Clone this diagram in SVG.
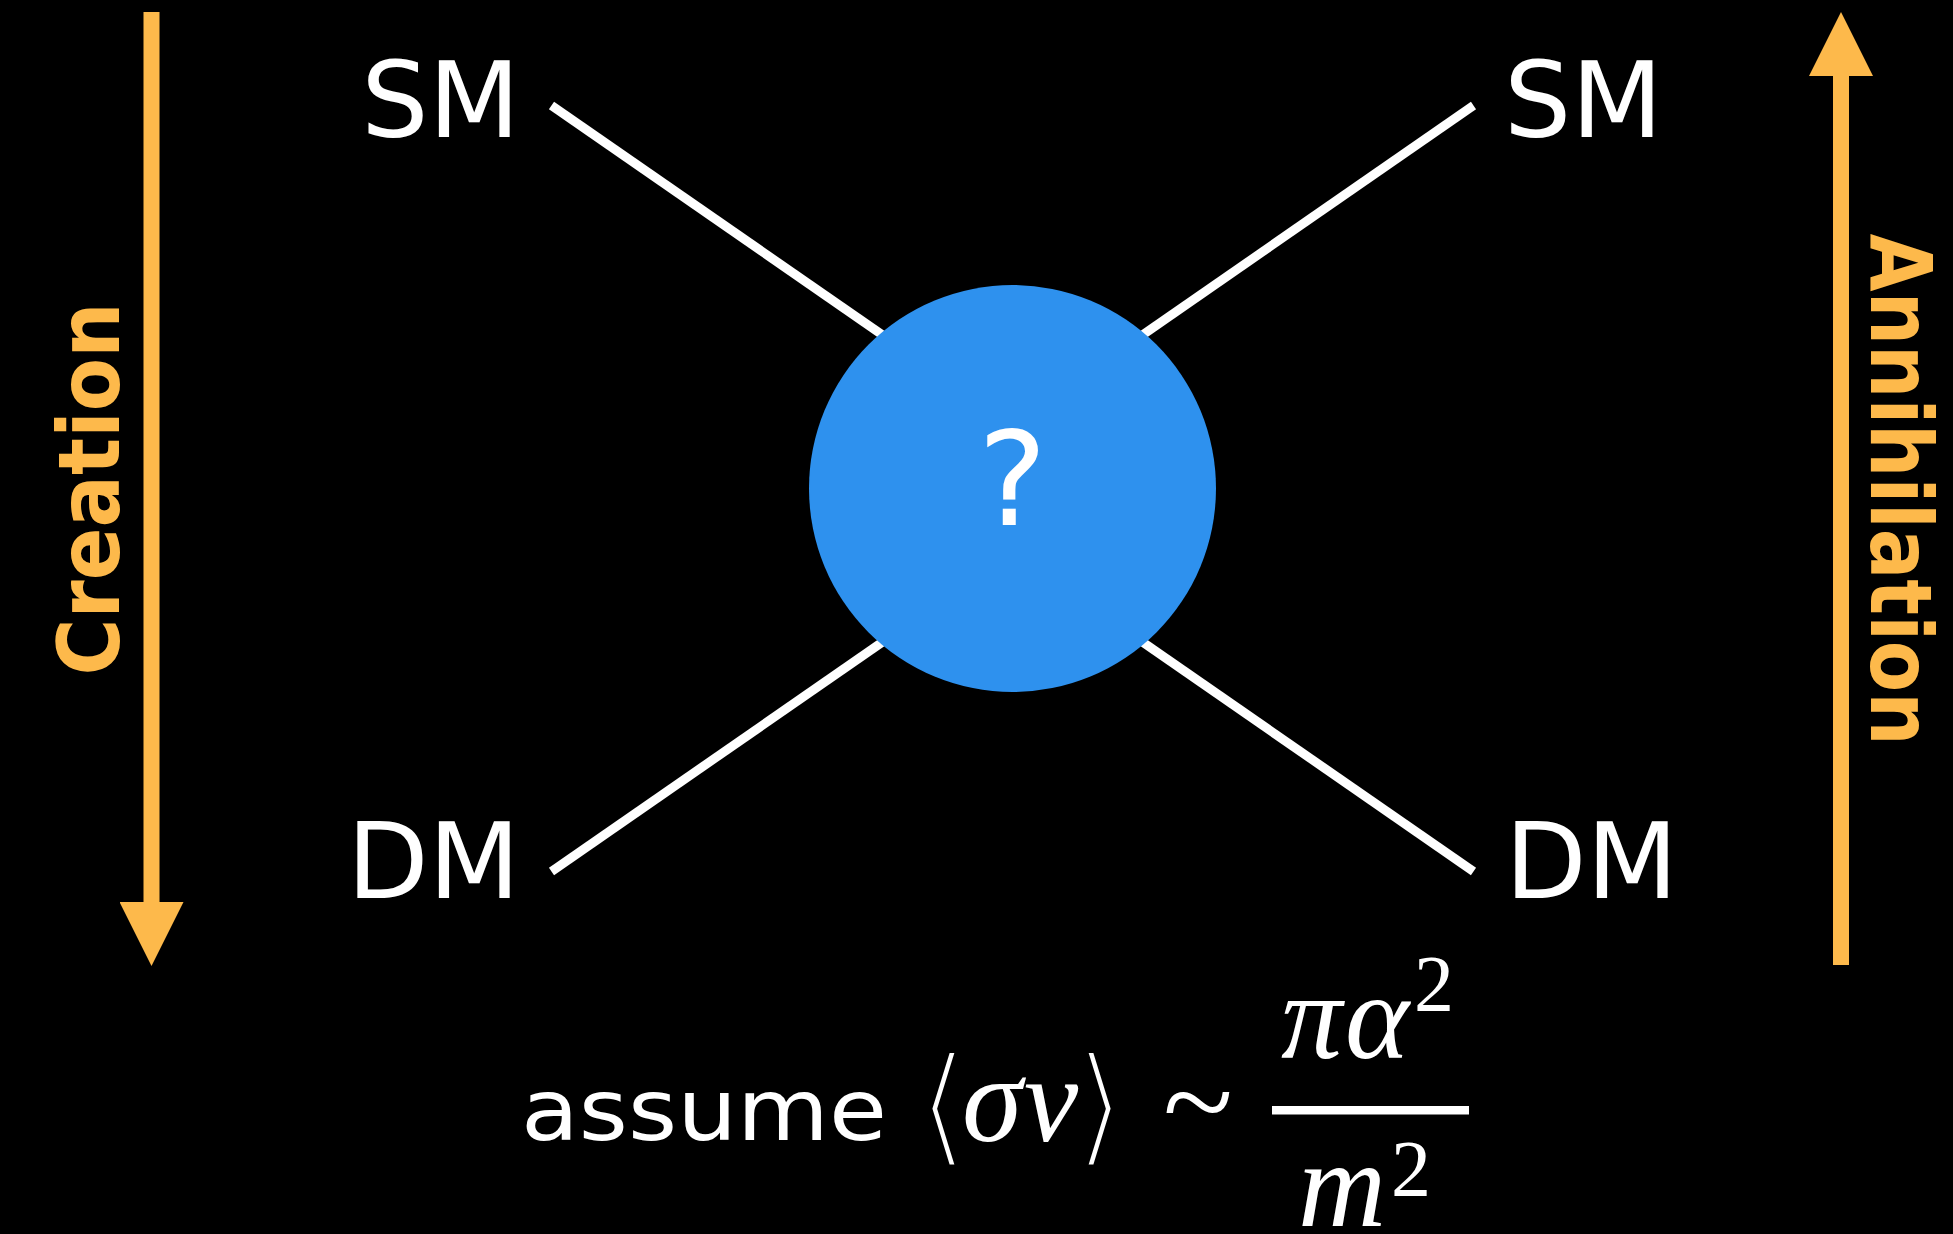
<svg xmlns="http://www.w3.org/2000/svg" width="1953" height="1234" viewBox="0 0 1953 1234">
  <defs>
    <marker id="head" markerUnits="strokeWidth" markerWidth="4" markerHeight="4" refX="0" refY="2" orient="auto">
      <path d="M0,0 L4,2 L0,4 Z" fill="#fdb94b"/>
    </marker>
    <style>
      .edge { stroke: #ffffff; stroke-width: 9; fill: none; }
      .flow { stroke: #fdb94b; stroke-width: 16; fill: none; marker-end: url(#head); }
      .lbl { font-family: "DejaVu Sans", "Liberation Sans", sans-serif; font-size: 106px; fill: #ffffff; }
      .side { font-family: "DejaVu Sans", "Liberation Sans", sans-serif; font-weight: bold; font-size: 86px; fill: #fdb94b; }
      .txt { font-family: "DejaVu Sans", "Liberation Sans", sans-serif; font-size: 85px; fill: #ffffff; }
      .mi { font-family: "Liberation Serif", "DejaVu Serif", serif; font-style: italic; font-size: 122px; fill: #ffffff; stroke: none; }
      .mn { font-family: "Liberation Serif", "DejaVu Serif", serif; font-size: 80px; fill: #ffffff; }
      .br { font-family: "DejaVu Sans", sans-serif; font-style: normal; font-size: 132px; fill: #ffffff; stroke: #000000; stroke-width: 6; }
    </style>
  </defs>
  <rect x="0" y="0" width="1953" height="1234" fill="#000000"/>

  <g id="connectors">
    <line class="edge" x1="551.5" y1="105.5" x2="882.5" y2="335"/>
    <line class="edge" x1="1473.5" y1="105.5" x2="1142.5" y2="335"/>
    <line class="edge" x1="551.5" y1="871.5" x2="882.5" y2="642"/>
    <line class="edge" x1="1473.5" y1="871.5" x2="1142.5" y2="642"/>
  </g>

  <g id="creation-arrow">
    <line class="flow" x1="151.5" y1="12" x2="151.5" y2="902"/>
    <text class="side" transform="translate(119,675.5) rotate(-90)" textLength="373" lengthAdjust="spacingAndGlyphs">Creation</text>
  </g>

  <g id="annihilation-arrow">
    <line class="flow" x1="1841" y1="965" x2="1841" y2="76"/>
    <text class="side" transform="translate(1871,233.7) rotate(90)" textLength="512" lengthAdjust="spacingAndGlyphs">Annihilation</text>
  </g>

  <g id="node-sm-left"><text class="lbl" x="520" y="137" text-anchor="end">SM</text></g>
  <g id="node-sm-right"><text class="lbl" x="1504" y="137" text-anchor="start">SM</text></g>
  <g id="node-dm-left"><text class="lbl" x="520" y="898" text-anchor="end">DM</text></g>
  <g id="node-dm-right"><text class="lbl" x="1505" y="898" text-anchor="start">DM</text></g>

  <g id="node-vertex">
    <circle cx="1012.5" cy="488.5" r="203.5" fill="#2e91ee"/>
    <text class="lbl" x="1012.5" y="525" text-anchor="middle" style="font-size:130px">?</text>
  </g>

  <g id="formula">
    <text class="txt" x="521" y="1140" textLength="366" lengthAdjust="spacingAndGlyphs">assume</text>
    <text><tspan class="br" x="917.6" y="1150">⟨</tspan><tspan class="mi" x="962" y="1141">σ</tspan><tspan class="mi" x="1024" y="1141">ν</tspan><tspan class="br" x="1074" y="1150">⟩</tspan></text>
    <text class="mi" x="1163" y="1143" style="font-style:normal" textLength="70" lengthAdjust="spacingAndGlyphs">~</text>
    <rect x="1272" y="1106" width="197" height="8.5" fill="#ffffff"/>
    <text class="mi" y="1058"><tspan x="1281">π</tspan><tspan x="1345">α</tspan></text>
    <text class="mn" x="1414" y="1011">2</text>
    <text class="mi" x="1298" y="1226">m</text>
    <text class="mn" x="1391" y="1196">2</text>
  </g>
</svg>
